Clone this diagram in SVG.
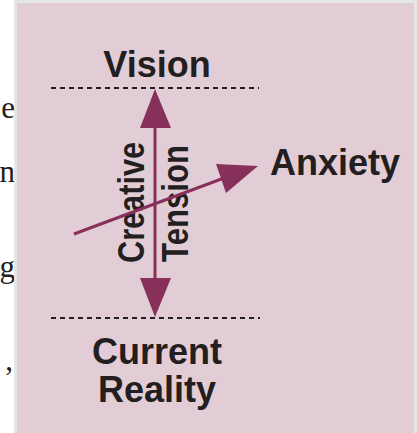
<svg xmlns="http://www.w3.org/2000/svg" width="417" height="433" viewBox="0 0 417 433">
<style>
.lbl{font-family:"Liberation Sans",Arial,sans-serif;font-weight:bold;font-size:36px;fill:#231f20;text-anchor:middle}
.side{font-family:"Liberation Serif","Times New Roman",serif;font-size:31px;fill:#231f20;text-anchor:end}
.dash{stroke:#231f20;stroke-width:2;stroke-dasharray:5 4;fill:none}
.shaft{stroke:#86305a;stroke-width:3;fill:none}
.head{fill:#86305a}
</style>
<rect width="417" height="433" fill="#ffffff"/>
<g id="page-text">
<text class="side" x="15" y="118">e</text>
<text class="side" x="15" y="182">n</text>
<text class="side" x="15" y="277">g</text>
<text class="side" x="13" y="370">,</text>
</g>
<g id="panel">
<rect x="15.5" y="1.5" width="400" height="440" fill="#e2cdd7" stroke="#e6e6e6" stroke-width="3"/>
</g>
<g id="vision">
<text class="lbl" x="157" y="77">Vision</text>
<line class="dash" x1="51" y1="88" x2="259" y2="88"/>
</g>
<g id="current-reality">
<line class="dash" x1="51" y1="318" x2="260" y2="318"/>
<text class="lbl" x="157" y="364">Current</text>
<text class="lbl" x="157" y="402">Reality</text>
</g>
<g id="anxiety">
<text class="lbl" x="335" y="175">Anxiety</text>
</g>
<g id="creative-tension">
<text class="lbl" transform="translate(144,202.5) rotate(-90)" textLength="121" lengthAdjust="spacingAndGlyphs">Creative</text>
<text class="lbl" transform="translate(188,203.5) rotate(-90)" textLength="117" lengthAdjust="spacingAndGlyphs">Tension</text>
</g>
<g id="connectors">
<line class="shaft" x1="155" y1="126" x2="155" y2="280"/>
<polygon class="head" points="155,89 171,128 140,128"/>
<polygon class="head" points="155,317 171,278 140,278"/>
<line class="shaft" x1="74" y1="234" x2="224" y2="178"/>
<polygon class="head" points="258,166 216,164 226,193"/>
</g>
</svg>
